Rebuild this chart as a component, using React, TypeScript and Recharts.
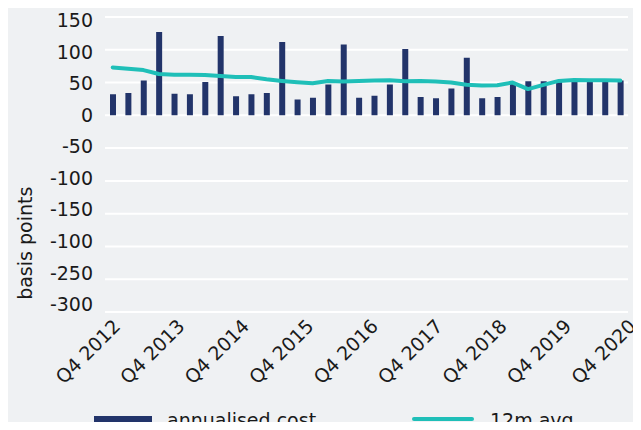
import React from 'react';
import { ComposedChart, Bar, Line, XAxis, YAxis, CartesianGrid } from 'recharts';

const quarters = [
  'Q3 2012', 'Q4 2012',
  'Q1 2013', 'Q2 2013', 'Q3 2013', 'Q4 2013',
  'Q1 2014', 'Q2 2014', 'Q3 2014', 'Q4 2014',
  'Q1 2015', 'Q2 2015', 'Q3 2015', 'Q4 2015',
  'Q1 2016', 'Q2 2016', 'Q3 2016', 'Q4 2016',
  'Q1 2017', 'Q2 2017', 'Q3 2017', 'Q4 2017',
  'Q1 2018', 'Q2 2018', 'Q3 2018', 'Q4 2018',
  'Q1 2019', 'Q2 2019', 'Q3 2019', 'Q4 2019',
  'Q1 2020', 'Q2 2020', 'Q3 2020', 'Q4 2020',
];

const annualisedCost = [
  32, 34, 53, 127, 33, 32, 51, 121, 29, 32, 34, 112, 24, 27, 47, 108, 27,
  30, 47, 101, 28, 26, 41, 88, 26, 28, 50, 52, 52, 52, 52, 52, 52, 53,
];

const avg12m = [
  73, 71, 69, 63, 62, 62, 61.5, 60, 58.5, 58.5, 55, 52.5, 50.5, 49, 52.5, 51.5, 52.5,
  53, 53.5, 52, 52.5, 51.5, 50, 46.5, 45.5, 46, 50, 40, 46.5, 52.5, 54, 53.5, 53.5, 53,
];

// x labels sit a little off the bars in the original, so their spots are given in bar units
const yearLabels = ['Q4 2012', 'Q4 2013', 'Q4 2014', 'Q4 2015', 'Q4 2016', 'Q4 2017', 'Q4 2018', 'Q4 2019', 'Q4 2020'];
const yearTickPos = [-0.05, 4.14, 8.33, 12.52, 16.71, 20.9, 25.09, 29.28, 33.47];
const yTicks = [-300, -250, -200, -150, -100, -50, 0, 50, 100, 150];
const yTickLabels = ['-300', '-250', '-100', '-150', '-100', '-50', '0', '50', '100', '150'];

const colors = {
  bar: '#22346a',
  line: '#1fbfb8',
  bg: '#eff1f3',
  text: '#1a1a1a',
};

const legendItems = [
  { name: 'annualised cost', color: colors.bar, kind: 'bar' },
  { name: '12m avg', color: colors.line, kind: 'line' },
];

const data = quarters.map((q, i) => ({ q, i, cost: annualisedCost[i], avg: avg12m[i] }));

const font = '"DejaVu Sans", Verdana, sans-serif';

const YLabel = ({ viewBox }: any) => {
  const cx = 25;
  const cy = viewBox.y + viewBox.height * 0.767;
  return (
    <text x={cx} y={cy} transform={`rotate(-90, ${cx}, ${cy})`} textAnchor="middle" dominantBaseline="central"
      fill={colors.text} fontSize={19} fontFamily={font}>
      basis points
    </text>
  );
};

// the labels in the original are packed a bit tighter than the gridlines
const YTick = ({ x, y, payload }: any) => {
  const v = payload.value;
  const nudge = -0.5 + v * 0.024;
  return (
    <text x={x} y={y + nudge} dy="0.36em" textAnchor="end" fill={colors.text} fontSize={19} fontFamily={font}>
      {yTickLabels[yTicks.indexOf(v)]}
    </text>
  );
};

const Legend2 = () => (
  <div style={{ position: 'absolute', left: 0, top: 404, width: 641, height: 26, fontFamily: font, fontSize: 19, color: colors.text }}>
    {legendItems.map((it, i) => {
      const left = i === 0 ? 94 : 412;
      return (
        <div key={it.name} style={{ position: 'absolute', left, top: 0, height: 26, whiteSpace: 'nowrap' }}>
          {it.kind === 'bar' ? (
            <div style={{ position: 'absolute', left: 0, top: 12, width: 58, height: 11, background: it.color }} />
          ) : (
            <svg style={{ position: 'absolute', left: 0, top: 11 }} width={62} height={8}>
              <line x1={2} y1={4} x2={60} y2={4} stroke={it.color} strokeWidth={4} strokeLinecap="round" />
            </svg>
          )}
          <span style={{ position: 'absolute', left: i === 0 ? 73 : 78, top: 5, lineHeight: '22px' }}>{it.name}</span>
        </div>
      );
    })}
  </div>
);

export default function App() {
  return (
    <div style={{ margin: -8, width: 641, height: 430, background: colors.bg, position: 'relative', overflow: 'hidden' }}>
      <ComposedChart width={641} height={430} data={data} margin={{ top: 17, right: 13, bottom: 0, left: 0 }}>
        <CartesianGrid vertical={false} stroke="#ffffff" strokeWidth={2} />
        <XAxis
          dataKey="i"
          type="number"
          domain={[-0.5, 33.5]}
          allowDataOverflow
          ticks={yearTickPos}
          tickFormatter={(_v: number, idx: number) => yearLabels[idx]}
          interval={0}
          angle={-45}
          textAnchor="end"
          height={118}
          tickLine={false}
          axisLine={false}
          tickSize={0}
          tickMargin={6}
          tick={{ fill: colors.text, fontSize: 19, fontFamily: font }}
        />
        <YAxis
          domain={[-300, 150]}
          ticks={yTicks}
          interval={0}
          width={105}
          tickLine={false}
          axisLine={false}
          tickSize={0}
          tickMargin={12}
          tick={<YTick />}
          label={<YLabel />}
        />
        <Bar dataKey="cost" name="annualised cost" fill={colors.bar} barSize={6} isAnimationActive={false} />
        <Line type="linear" dataKey="avg" name="12m avg" stroke={colors.line} strokeWidth={4}
          dot={false} strokeLinecap="round" strokeLinejoin="round" isAnimationActive={false} />
      </ComposedChart>
      <Legend2 />
    </div>
  );
}
